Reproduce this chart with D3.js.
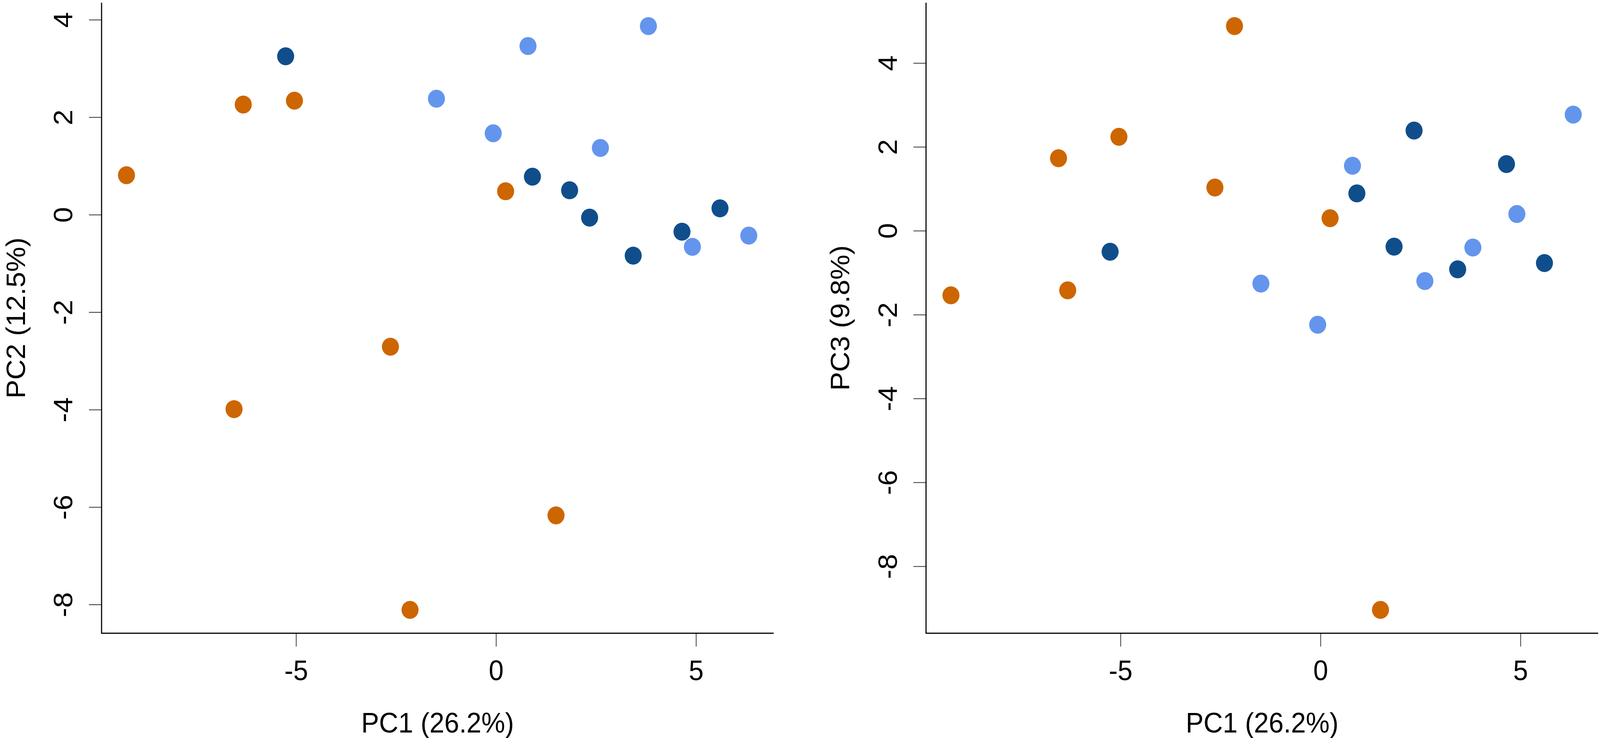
<!DOCTYPE html>
<html lang="en">
<head>
    <meta charset="UTF-8"/>
    <title>PCA score plots</title>
    <script src="https://d3js.org/d3.v7.min.js"></script>
    <style>
        html, body { margin: 0; padding: 0; width: 100%; height: 100%; overflow: hidden; background: #ffffff; }
        svg { display: block; }
        text { font-family: "Liberation Sans", Arial, sans-serif; fill: #000000; }
    </style>
</head>
<body>
<script>
    // sample scores (same order in every array)
    var pc1 = [-9.24, -6.32, -6.55, -5.04, -2.64, -2.15, 0.24, 1.50,
               -5.26, 0.91, 1.84, 2.34, 3.43, 4.65, 5.60,
               -1.49, -0.07, 0.80, 2.61, 3.81, 4.91, 6.32];
    var pc2 = [0.81, 2.26, -3.99, 2.34, -2.71, -8.11, 0.48, -6.17,
               3.25, 0.78, 0.50, -0.06, -0.84, -0.35, 0.13,
               2.38, 1.67, 3.46, 1.37, 3.87, -0.66, -0.43];
    var pc3 = [-1.54, -1.42, 1.73, 2.24, 1.03, 4.88, 0.30, -9.04,
               -0.50, 0.89, -0.38, 2.39, -0.92, 1.59, -0.77,
               -1.26, -2.24, 1.55, -1.20, -0.40, 0.40, 2.77];
    var group = ["A", "A", "A", "A", "A", "A", "A", "A",
                 "B", "B", "B", "B", "B", "B", "B",
                 "C", "C", "C", "C", "C", "C", "C"];

    var groupNames = ["A", "B", "C"];
    var groupColours = ["#CD6600", "#104E8B", "#6495ED"];

    var xTicks = [-5, 0, 5];
    var pc2Ticks = [-8, -6, -4, -2, 0, 2, 4];
    var pc3Ticks = [-8, -6, -4, -2, 0, 2, 4];

    var xTitle = "PC1 (26.2%)";
    var pc2Title = "PC2 (12.5%)";
    var pc3Title = "PC3 (9.8%)";

    var w = 4316;
    var h = 1888;
    var plotTop = 7;
    var plotBottom = 1620;
    var plotW = 1813;
    var fontSize = 72;

    var colour = d3.scaleOrdinal().domain(groupNames).range(groupColours);

    // drawn in a fixed 4316 x 1888 frame that fills the whole window
    var svg = d3.select("body")
                .append("svg")
                .attr("width", "100%")
                .attr("height", "100%")
                .attr("viewBox", "0 0 " + w + " " + h)
                .attr("preserveAspectRatio", "none");

    // R style: pad the data range by 4% on each side
    function padded(values) {
        var ext = d3.extent(values);
        var pad = (ext[1] - ext[0]) * 0.04;
        return [ext[0] - pad, ext[1] + pad];
    }

    // plain hyphen minus like R prints it
    function plainLabel(d) {
        return String(d);
    }

    function drawPanel(left, yValues, yTicks, yTitle) {
        var xScale = d3.scaleLinear()
                       .domain(padded(pc1))
                       .range([left, left + plotW]);
        var yScale = d3.scaleLinear()
                       .domain(padded(yValues))
                       .range([plotBottom, plotTop]);

        var g = svg.append("g");

        // x axis
        var xAxis = g.append("g")
                     .attr("transform", "translate(0," + plotBottom + ")")
                     .call(d3.axisBottom(xScale).tickValues(xTicks).tickSize(34).tickFormat(plainLabel));
        xAxis.select(".domain").remove();
        xAxis.selectAll(".tick line").attr("stroke", "#333333").attr("stroke-width", 2);
        xAxis.selectAll(".tick text")
             .attr("y", 120)
             .attr("dy", 0)
             .attr("font-size", fontSize + "px")
             .style("font-family", "'Liberation Sans', Arial, sans-serif")
             .attr("fill", "#000000");

        // y axis
        var yAxis = g.append("g")
                     .attr("transform", "translate(" + left + ",0)")
                     .call(d3.axisLeft(yScale).tickValues(yTicks).tickSize(34).tickFormat(plainLabel));
        yAxis.select(".domain").remove();
        yAxis.selectAll(".tick line").attr("stroke", "#333333").attr("stroke-width", 2);
        yAxis.selectAll(".tick text")
             .attr("x", 0)
             .attr("dy", 0)
             .attr("transform", "translate(-79,0) rotate(-90)")
             .attr("text-anchor", "middle")
             .attr("font-size", fontSize + "px")
             .style("font-family", "'Liberation Sans', Arial, sans-serif")
             .attr("fill", "#000000");

        // L shaped frame
        g.append("path")
         .attr("d", "M" + left + "," + plotTop + "V" + plotBottom + "H" + (left + plotW))
         .attr("fill", "none")
         .attr("stroke", "#000000")
         .attr("stroke-width", 3);

        // axis titles
        g.append("text")
         .attr("x", left + plotW / 2)
         .attr("y", plotBottom + 254)
         .attr("text-anchor", "middle")
         .attr("font-size", fontSize + "px")
         .text(xTitle);

        g.append("text")
         .attr("transform", "translate(" + (left - 207) + "," + ((plotTop + plotBottom) / 2) + ") rotate(-90)")
         .attr("text-anchor", "middle")
         .attr("font-size", fontSize + "px")
         .text(yTitle);

        // points
        g.selectAll("circle")
         .data(pc1)
         .enter()
         .append("circle")
         .attr("cx", function(d) {
             return xScale(d);
         })
         .attr("cy", function(d, i) {
             return yScale(yValues[i]);
         })
         .attr("r", 23)
         .attr("fill", function(d, i) {
             return colour(group[i]);
         });
    }

    drawPanel(274, pc2, pc2Ticks, pc2Title);
    drawPanel(2498, pc3, pc3Ticks, pc3Title);
</script>
</body>
</html>
